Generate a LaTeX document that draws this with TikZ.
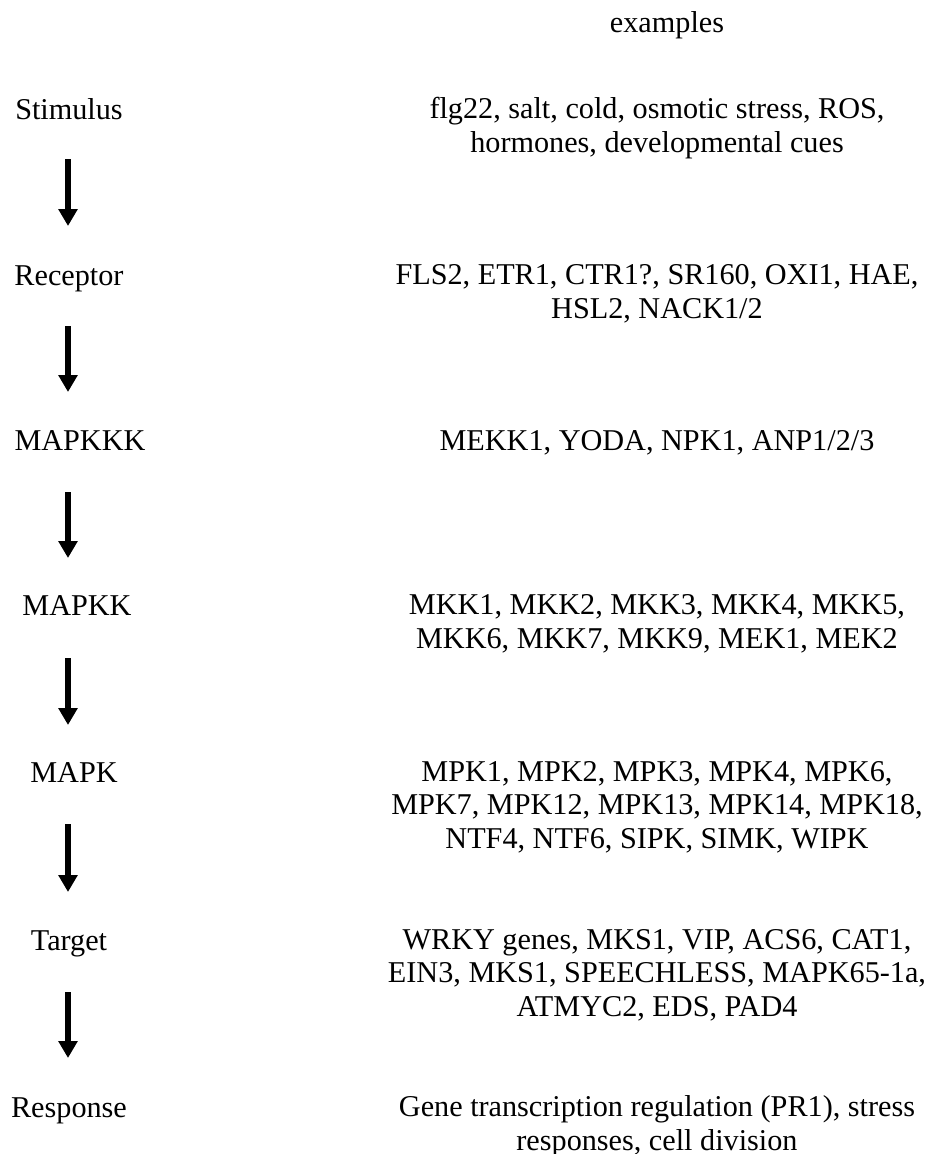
\documentclass[tikz,border=0pt]{standalone}
\usepackage{fontspec}
\setmainfont{Liberation Serif}
\usetikzlibrary{arrows.meta}
\begin{document}
\begin{tikzpicture}[x=0.02cm,y=-0.02cm,line join=round,font=\fontsize{17.2}{18.8}\selectfont,
	step label/.style={anchor=base,inner sep=0pt},
	example text/.style={anchor=base,inner sep=0pt,align=center},
	flow/.style={line width=3.4pt,-{Triangle[width=0.37cm,length=0.34cm]}}]
		\useasboundingbox (0,0) rectangle (938,1154);
		% column heading
		\node[example text] (head) at (667,32) {examples};
		% steps of the cascade
		\node[step label] (stim) at (69,119) {Stimulus};
		\node[step label] (rec) at (69,285) {Receptor};
		\node[step label] (mkkk) at (80,450) {MAPKKK};
		\node[step label] (mkk) at (77,615) {MAPKK};
		\node[step label] (mk) at (74,782) {MAPK};
		\node[step label] (targ) at (69,950) {Target};
		\node[step label] (resp) at (69,1117) {Response};
		% examples (base = last line, 33 per line)
		\node[example text] (exstim) at (657,152) {flg22, salt, cold, osmotic stress, ROS,\\ hormones, developmental cues};
		\node[example text] (exrec) at (657,318) {FLS2, ETR1, CTR1?, SR160, OXI1, HAE,\\ HSL2, NACK1/2};
		\node[example text] (exmkkk) at (657,450) {MEKK1, YODA, NPK1, ANP1/2/3};
		\node[example text] (exmkk) at (657,648) {MKK1, MKK2, MKK3, MKK4, MKK5,\\ MKK6, MKK7, MKK9, MEK1, MEK2};
		\node[example text] (exmk) at (657,848) {MPK1, MPK2, MPK3, MPK4, MPK6,\\ MPK7, MPK12, MPK13, MPK14, MPK18,\\ NTF4, NTF6, SIPK, SIMK, WIPK};
		\node[example text] (extarg) at (657,1016) {WRKY genes, MKS1, VIP, ACS6, CAT1,\\ EIN3, MKS1, SPEECHLESS, MAPK65-1a,\\ ATMYC2, EDS, PAD4};
		\node[example text] (exresp) at (657,1150) {Gene transcription regulation (PR1), stress\\ responses, cell division};
		% arrows
		\coordinate (a1) at (68,159); \coordinate (b1) at (68,226);
		\coordinate (a2) at (68,326); \coordinate (b2) at (68,392);
		\coordinate (a3) at (68,492); \coordinate (b3) at (68,558);
		\coordinate (a4) at (68,658); \coordinate (b4) at (68,725);
		\coordinate (a5) at (68,824); \coordinate (b5) at (68,892);
		\coordinate (a6) at (68,992); \coordinate (b6) at (68,1058);
		\draw[flow] (a1)--(b1);
		\draw[flow] (a2)--(b2);
		\draw[flow] (a3)--(b3);
		\draw[flow] (a4)--(b4);
		\draw[flow] (a5)--(b5);
		\draw[flow] (a6)--(b6);
\end{tikzpicture}
\end{document}
